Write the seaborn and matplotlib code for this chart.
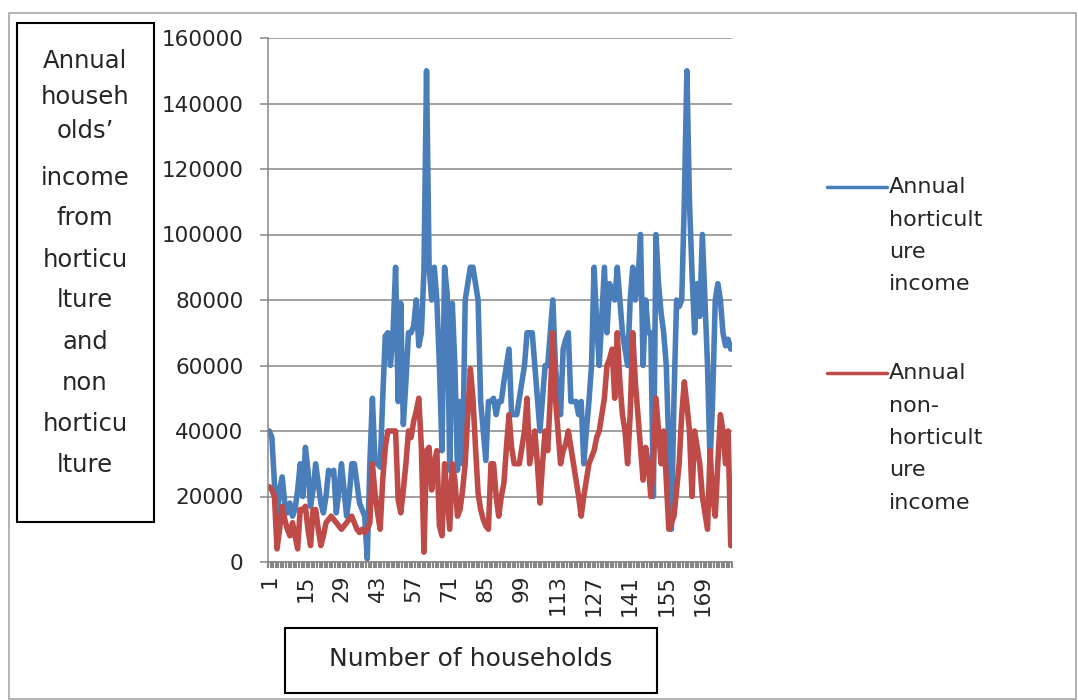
import numpy as np
import pandas as pd
import matplotlib
matplotlib.use("Agg")
import matplotlib.pyplot as plt
import seaborn as sns
from matplotlib.patches import Rectangle
from matplotlib.lines import Line2D
from matplotlib.ticker import FixedLocator, NullFormatter

# Annual horticulture income per household (households 1..180)
horticulture_income = [
    40000, 38000, 24000, 14000, 22000, 26000, 18000, 15000, 18000, 14000,
    16000, 22000, 30000, 20000, 35000, 28000, 17000, 22000, 30000, 24000,
    18000, 15000, 20000, 28000, 27000, 28000, 15000, 22000, 30000, 22000,
    14000, 20000, 30000, 30000, 24000, 18000, 16000, 14000, 1000, 30000,
    50000, 31000, 30000, 29000, 50000, 69000, 70000, 60000, 70000, 90000,
    49000, 79000, 42000, 55000, 70000, 70000, 72000, 80000, 66000, 70000,
    89000, 150000, 90000, 80000, 90000, 80000, 60000, 34000, 90000, 82000,
    28000, 79000, 60000, 28000, 49000, 30000, 80000, 85000, 90000, 90000,
    85000, 80000, 49000, 40000, 31000, 49000, 49000, 50000, 45000, 49000,
    49000, 55000, 60000, 65000, 45000, 45000, 45000, 50000, 55000, 60000,
    70000, 70000, 70000, 60000, 50000, 40000, 50000, 60000, 60000, 70000,
    80000, 60000, 50000, 45000, 65000, 68000, 70000, 49000, 49000, 49000,
    45000, 49000, 30000, 40000, 49000, 60000, 90000, 73000, 60000, 75000,
    90000, 70000, 85000, 82000, 80000, 90000, 80000, 70000, 65000, 60000,
    80000, 90000, 80000, 85000, 100000, 60000, 80000, 70000, 70000, 20000,
    100000, 85000, 76000, 70000, 60000, 35000, 10000, 50000, 80000, 78000,
    80000, 110000, 150000, 110000, 88000, 70000, 85000, 75000, 100000, 80000,
    60000, 30000, 50000, 80000, 85000, 80000, 70000, 66000, 68000, 65000,
]

# Annual non-horticulture income per household
non_horticulture_income = [
    23000, 22000, 20000, 4000, 10000, 17000, 13000, 10000, 8000, 12000,
    8000, 4000, 16000, 16000, 17000, 10000, 5000, 16000, 16000, 10000,
    5000, 8000, 12000, 13000, 14000, 13000, 12000, 11000, 10000, 11000,
    12000, 13000, 14000, 12000, 10000, 9000, 10000, 9000, 10000, 12000,
    30000, 21000, 15000, 10000, 25000, 35000, 40000, 40000, 40000, 40000,
    19000, 15000, 22000, 30000, 40000, 38000, 43000, 46000, 50000, 35000,
    3000, 34000, 35000, 22000, 30000, 34000, 11000, 8000, 30000, 20000,
    10000, 30000, 25000, 14000, 16000, 22000, 30000, 45000, 59000, 50000,
    35000, 21000, 16000, 13000, 11000, 10000, 30000, 30000, 20000, 14000,
    20000, 24000, 35000, 45000, 35000, 30000, 30000, 30000, 35000, 40000,
    50000, 30000, 35000, 40000, 30000, 18000, 30000, 40000, 34000, 50000,
    70000, 50000, 40000, 30000, 34000, 36000, 40000, 35000, 30000, 25000,
    20000, 14000, 20000, 25000, 30000, 32000, 34000, 38000, 40000, 45000,
    50000, 60000, 62000, 65000, 50000, 70000, 55000, 45000, 40000, 30000,
    45000, 70000, 55000, 45000, 35000, 25000, 35000, 30000, 20000, 30000,
    50000, 40000, 30000, 40000, 25000, 10000, 12000, 14000, 22000, 30000,
    45000, 55000, 48000, 40000, 20000, 40000, 35000, 30000, 20000, 15000,
    10000, 34000, 20000, 14000, 30000, 45000, 40000, 30000, 40000, 5000,
]

series_names = ["Annual horticulture income", "Annual non-horticulture income"]
y_ticks = [0, 20000, 40000, 60000, 80000, 100000, 120000, 140000, 160000]
x_tick_labels = [1, 15, 29, 43, 57, 71, 85, 99, 113, 127, 141, 155, 169]

households = np.arange(1, len(horticulture_income) + 1)
df = pd.DataFrame({
    "household": np.concatenate([households, households]),
    "income": horticulture_income + non_horticulture_income,
    "series": [series_names[0]] * len(households) + [series_names[1]] * len(households),
})

BLUE = "#4A7EBB"
RED = "#BE4B48"
GRID = "#868686"
TEXT = "#262626"

sns.set_style("white")
plt.rcParams["font.family"] = ["DejaVu Sans"]

W, H = 1078, 700
fig = plt.figure(figsize=(W / 100, H / 100), dpi=100)
ax = fig.add_axes([268 / W, 1 - 562 / H, (732 - 268) / W, (562 - 38) / H])

sns.lineplot(data=df, x="household", y="income", hue="series",
             palette=[BLUE, RED], linewidth=4.0, legend=False, ax=ax,
             estimator=None, sort=False)

ax.set_xlim(0.5, len(households) + 0.5)
ax.set_ylim(0, 160000)
ax.set_yticks(y_ticks)
ax.set_yticklabels([str(v) for v in y_ticks], fontsize=15.5, color=TEXT)
ax.yaxis.grid(True, color=GRID, linewidth=1.1)
ax.set_axisbelow(True)

ax.set_xticks(x_tick_labels)
ax.set_xticklabels([str(v) for v in x_tick_labels], rotation=90,
                   fontsize=15.5, color=TEXT, va="top")
ax.xaxis.set_minor_locator(FixedLocator(np.arange(0.5, len(households) + 1, 1.0)))
ax.xaxis.set_minor_formatter(NullFormatter())
ax.tick_params(axis="x", which="major", length=0, pad=9)
ax.tick_params(axis="x", which="minor", length=4.5, width=1.5, color=GRID, bottom=True)
ax.tick_params(axis="y", which="major", length=5.8, width=1.1, color=GRID, pad=12, left=True)

ax.set_xlabel("")
ax.set_ylabel("")
for side in ["top", "right"]:
    ax.spines[side].set_visible(False)
for side in ["left", "bottom"]:
    ax.spines[side].set_color(GRID)
    ax.spines[side].set_linewidth(1.1)


def px(x, y):
    return x / W, 1 - y / H


# Outer chart border
x0, y0 = px(9, 699)
x1, y1 = px(1076, 13)
fig.add_artist(Rectangle((x0, y0), x1 - x0, y1 - y0, transform=fig.transFigure,
                         fill=False, edgecolor="#A6A6A6", linewidth=1.2))

# Vertical axis title box
x0, y0 = px(17, 522)
x1, y1 = px(154, 23)
fig.add_artist(Rectangle((x0, y0), x1 - x0, y1 - y0, transform=fig.transFigure,
                         fill=False, edgecolor="black", linewidth=1.5))
ytitle_lines = ["Annual", "househ", "olds’", "income", "from", "horticu",
                "lture", "and", "non", "horticu", "lture"]
ytitle_y = [61, 97, 131, 178, 218, 260, 300, 342, 383, 424, 465]
for line, yy in zip(ytitle_lines, ytitle_y):
    fig.text(*px(85, yy), line, ha="center", va="center", fontsize=17.5, color=TEXT)

# Horizontal axis title box
x0, y0 = px(285, 693)
x1, y1 = px(657, 628)
fig.add_artist(Rectangle((x0, y0), x1 - x0, y1 - y0, transform=fig.transFigure,
                         fill=False, edgecolor="black", linewidth=1.5))
fig.text(*px(471, 659), "Number of households", ha="center", va="center",
         fontsize=18, color=TEXT)

# Legend
legend_entries = [
    (BLUE, ["Annual", "horticult", "ure", "income"], 187),
    (RED, ["Annual", "non-", "horticult", "ure", "income"], 373),
]
for color, lines, ytop in legend_entries:
    lx0, ly = px(827, ytop)
    lx1, _ = px(887, ytop)
    fig.add_artist(Line2D([lx0, lx1], [ly, ly], transform=fig.transFigure,
                          color=color, linewidth=2.5))
    for k, line in enumerate(lines):
        fig.text(*px(889, ytop + 32.5 * k), line, ha="left", va="center",
                 fontsize=16, color=TEXT)

fig.savefig("out.png", dpi=100)
